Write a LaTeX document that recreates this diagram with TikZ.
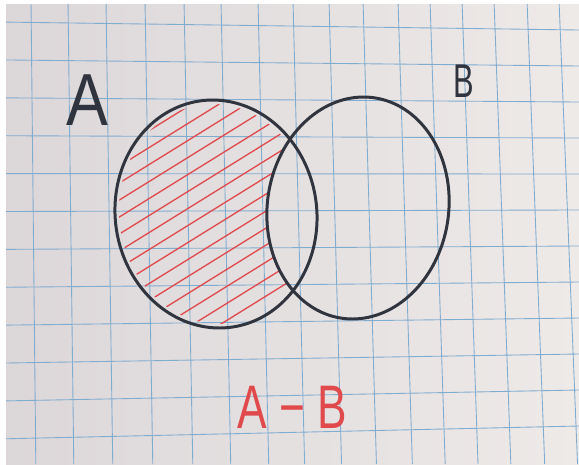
\documentclass[tikz,border=0pt]{standalone}
\usepackage{fontspec}
\setmainfont{Liberation Sans}
\usepackage{xcolor}
\usetikzlibrary{calc}

\definecolor{paperLight}{RGB}{238,234,232}
\definecolor{paperDark}{RGB}{212,206,210}
\definecolor{gridBlue}{RGB}{128,172,208}
\definecolor{penGray}{RGB}{48,52,62}
\definecolor{hatchRed}{RGB}{224,74,76}

\begin{document}
\begin{tikzpicture}[
  x=0.02cm, y=-0.02cm,
  every node/.style = {inner sep=0pt},
  grid line/.style  = {draw=gridBlue, line width=0.5pt},
  pen/.style        = {draw=penGray, line width=1.7pt, line join=round},
  hatch/.style      = {draw=hatchRed, line width=0.75pt, line cap=round},
  hand/.style       = {text=penGray},
  sheet/.style      = {insert path={(0,0) rectangle (579,464)}},
  %% outlines of the two hand-drawn sets (slightly sheared ovals)
  outlineA/.style   = {insert path={plot[domain=0:355, samples=72, smooth cycle]
      ({216+101*cos(\x)+0.03*114*sin(\x)}, {214+114*sin(\x)})}},
  outlineB/.style   = {insert path={plot[domain=0:355, samples=72, smooth cycle]
      ({358+91*cos(\x)-0.05*111*sin(\x)}, {208+111*sin(\x)})}},
  insetA/.style     = {insert path={plot[domain=0:355, samples=72, smooth cycle]
      ({216+97*cos(\x)+0.03*110*sin(\x)}, {214+110*sin(\x)})}},
]

%% ── Page and paper ────────────────────────────────────────────────────────
\useasboundingbox (0,0) rectangle (579,464);
\fill[white] (0,0) rectangle (579,464);
\shade[left color=paperDark!70!paperLight, right color=paperLight]
  (6,4) rectangle (579,464);

% Grid of the squared paper (slightly skewed, as photographed)
\begin{scope}
  \clip (6,4) rectangle (579,464);
  \foreach \gx in {31,68,106,145,184,221,258,293,329,363,398,430,462,494,527,559}
    \draw[grid line] (\gx,0) -- ({\gx+4+0.026*\gx},464);
  \foreach \k in {0,...,11}
    \draw[grid line] (0,{22+37.9*\k}) -- (579,{30+36*\k});
\end{scope}

%% ── Hatching of A - B ─────────────────────────────────────────────────────
\begin{scope}[even odd rule]
  \clip[insetA];
  \clip[sheet, outlineB];
  \foreach \c in {172,189,...,530}
    \draw[hatch] (100,{\c-0.62*100}) -- (330,{\c-0.62*330});
\end{scope}

%% ── The two sets ──────────────────────────────────────────────────────────
\draw[pen, outlineA];
\draw[pen, outlineB];

%% ── Labels ────────────────────────────────────────────────────────────────
\node[hand, font=\fontsize{42}{42}\selectfont, xscale=0.85] (labelA) at (87,100) {A};
\node[hand, font=\fontsize{27}{27}\selectfont, xscale=0.65] (labelB) at (464,81) {B};
\node[text=hatchRed, font=\fontsize{35}{35}\selectfont, xscale=0.72] (diff) at (292,407) {A − B};

\end{tikzpicture}
\end{document}
